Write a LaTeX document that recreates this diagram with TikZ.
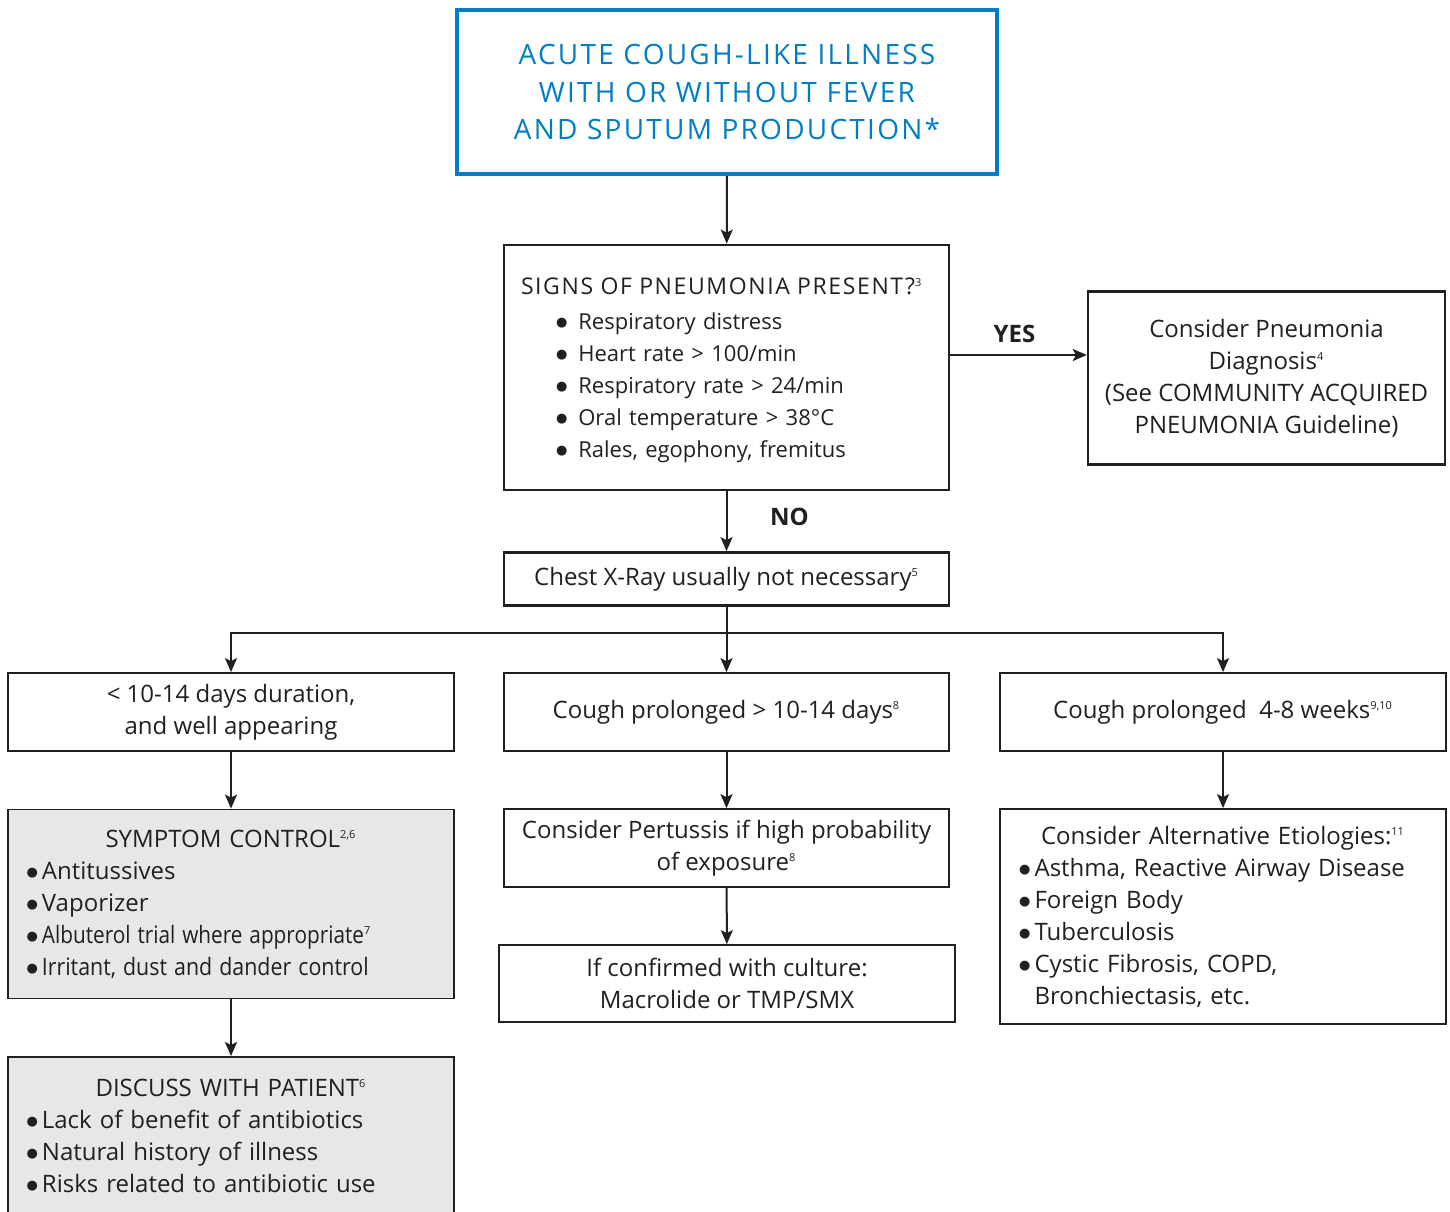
\documentclass[tikz,border=0pt]{standalone}
\usepackage{fontspec}
\setmainfont{Open Sans}
\newfontfamily\dotfont{DejaVu Sans}
\usepackage{graphicx}
\usetikzlibrary{arrows.meta}
\definecolor{titleblue}{RGB}{0,125,195}
\definecolor{boxgray}{RGB}{230,231,232}
\definecolor{ink}{RGB}{35,31,32}
\newcommand{\fn}[1]{\textsuperscript{\fontsize{5.5}{6}\selectfont #1}}
\newcommand{\blt}{\raisebox{1.3pt}{\dotfont\fontsize{6.5}{6.5}\selectfont ●}}
\newcommand{\bul}{\blt\hspace{2pt}}
\newcommand{\sgn}{\hspace*{17.5pt}\blt\hspace{5.5pt}}
\newcommand{\caps}[1]{{\addfontfeatures{LetterSpace=7}#1}}
\tikzset{
  flowbox/.style={draw=ink, line width=0.9pt, inner sep=0pt, align=center, text=ink, font=\fontsize{12}{16}\selectfont},
  graybox/.style={flowbox, fill=boxgray, align=left, inner xsep=9.3pt, text width=204.4pt},
  arr/.style={-{Stealth[length=7pt,width=6pt,inset=1.5pt]}, line width=1pt, draw=ink},
  answer/.style={font=\bfseries\fontsize{12}{14}\selectfont, text=ink}
}

\begin{document}
\begin{tikzpicture}[x=0.5pt,y=-0.5pt]
\useasboundingbox (0,0) rectangle (1450,1211);

\node (acute) [flowbox, draw=titleblue, line width=2pt, text=titleblue, minimum width=270pt, minimum height=82pt,
  font=\fontsize{14}{18.75}\selectfont\addfontfeatures{LetterSpace=8}] at (727,92)
  {ACUTE COUGH-LIKE ILLNESS\\WITH OR WITHOUT FEVER\\AND SPUTUM PRODUCTION*};

\node (signs) [flowbox, line width=1.4pt, align=left, inner xsep=8.5pt, text width=205.5pt, minimum height=122.5pt,
  font=\fontsize{11}{16}\selectfont] at (726.5,367.5)
  {\rule{0pt}{11pt}{\fontsize{11.5}{16}\selectfont\caps{SIGNS OF PNEUMONIA PRESENT?}}\fn{3}\\[1.5pt]
   \sgn Respiratory distress\\
   \sgn Heart rate > 100/min\\
   \sgn Respiratory rate > 24/min\\
   \sgn Oral temperature > 38°C\\
   \sgn Rales, egophony, fremitus};

\node (pneu) [flowbox, line width=1.2pt, minimum width=178.5pt, minimum height=86.5pt] at (1266.5,378)
  {Consider Pneumonia\\Diagnosis\fn{4}\\(See COMMUNITY ACQUIRED\\PNEUMONIA Guideline)};

\node (xray) [flowbox, line width=1.4pt, minimum width=222.5pt, minimum height=26.5pt] at (726.5,579)
  {Chest X-Ray usually not necessary\fn{5}};

\coordinate (split) at (726.5,633);

\node (short) [flowbox, minimum width=223pt, minimum height=39pt] at (231,712)
  {< 10-14 days duration,\\and well appearing};
\node (prol) [flowbox, minimum width=222.5pt, minimum height=39pt] at (726.5,712)
  {Cough prolonged > 10-14 days\fn{8}};
\node (weeks) [flowbox, minimum width=223pt, minimum height=39pt] at (1223,712)
  {Cough prolonged \ 4-8 weeks\fn{9,10}};

\node (sympt) [graybox, minimum height=94.5pt] at (231,904)
  {\hfill SYMPTOM CONTROL\fn{2,6}\hfill\null\\
   \bul Antitussives\\
   \bul Vaporizer\\
   \bul\scalebox{0.865}[1]{Albuterol trial where appropriate}\fn{7}\\
   \bul\scalebox{0.89}[1]{Irritant, dust and dander control}};

\node (discuss) [graybox, anchor=north, inner ysep=11pt] at (231,1056)
  {\hfill DISCUSS WITH PATIENT\fn{6}\hfill\null\\
   \bul Lack of benefit of antibiotics\\
   \bul Natural history of illness\\
   \bul Risks related to antibiotic use\\[4pt]\null};

\node (pert) [flowbox, minimum width=222.5pt, minimum height=39pt] at (726.5,848)
  {Consider Pertussis if high probability\\of exposure\fn{8}};
\node (cult) [flowbox, minimum width=228pt, minimum height=38.5pt] at (727,983.5)
  {If confirmed with culture:\\Macrolide or TMP/SMX};

\node (alt) [flowbox, align=left, inner xsep=9.6pt, text width=203.8pt, minimum height=107.5pt] at (1223,916.5)
  {\hfill Consider Alternative Etiologies:\fn{11}\hfill\null\\
   \bul Asthma, Reactive Airway Disease\\
   \bul Foreign Body\\
   \bul Tuberculosis\\
   \bul Cystic Fibrosis, COPD,\\
   \phantom{\bul}Bronchiectasis, etc.};

\draw [arr] (acute) -- (signs);
\draw [arr] ([yshift=6.25pt]signs.east) -- node[answer, above, pos=0.47, yshift=2.5pt]{YES} ([yshift=6.25pt]signs.east -| pneu.west);
\draw [arr] (signs) -- node[answer, right=18pt, yshift=2pt]{NO} (xray);
\draw [line width=1pt, draw=ink] (xray) -- (split);
\draw [arr] (split) -| (short);
\draw [arr] (split) -- (prol);
\draw [arr] (split) -| (weeks);
\draw [arr] (short) -- (sympt);
\draw [arr] (sympt) -- (discuss);
\draw [arr] (prol) -- (pert);
\draw [arr] (pert) -- (cult);
\draw [arr] (weeks) -- (alt);
\end{tikzpicture}
\end{document}
